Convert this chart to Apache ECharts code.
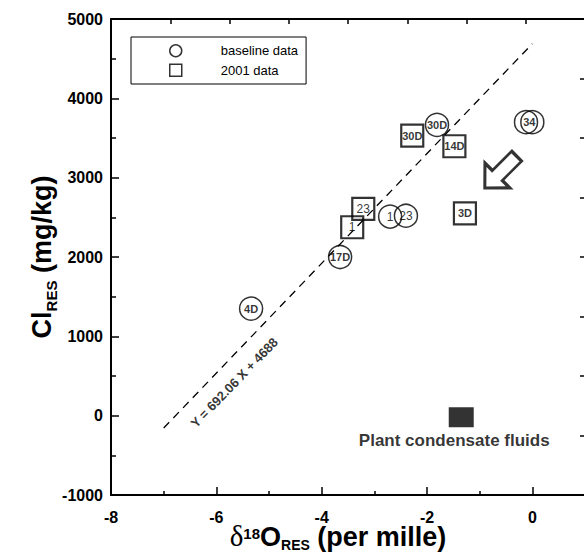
<!DOCTYPE html>
<html>
<head>
<meta charset="utf-8">
<script src="https://cdn.jsdelivr.net/npm/echarts@6/dist/echarts.min.js"></script>
<style>
  html, body { margin: 0; padding: 0; background: #fff; }
  #chart { width: 584px; height: 555px; }
</style>
</head>
<body>
<div id="chart"></div>
<script>
// ── Data ──────────────────────────────────────────────────────────────
const baseX      = [-5.34, -3.65, -2.70, -2.40, -1.81, -0.12, 0.0];
const baseY      = [1350, 2000, 2510, 2520, 3665, 3700, 3700];
const baseLabels = ['4D', '17D', '1', '23', '30D', '', '34'];

const newX       = [-3.42, -3.21, -2.28, -1.48, -1.28];
const newY       = [2375, 2607, 3531, 3396, 2551];
const newLabels  = ['1', '23', '30D', '14D', '3D'];

const condX = [-1.35];
const condY = [-20];
const condLabel = 'Plant condensate fluids';

const fitX = [-7, 0];
const fitY = [-156, 4688];
const fitText = 'Y = 692.06 X + 4688';
const fitTextAt = [-5.66, 416];

const arrowAt = [-0.6, 3070];

const xTicks = { min: -8, max: 1, interval: 2 };
const yTicks = { min: -1000, max: 5000, interval: 1000 };

// ── Styling ───────────────────────────────────────────────────────────
const sans  = "'Liberation Sans', Arial, sans-serif";
const serif = "'Liberation Serif', 'Times New Roman', serif";
const ink   = '#000';

const labelWeight = (t) => (/D|34/.test(t) ? 'bold' : 'normal');
const labelSize   = (t) => (/D|34/.test(t) ? 11 : 12);

const pts = (xs, ys, labels) => xs.map((x, i) => ({
  value: [x, ys[i]],
  label: {
    formatter: labels[i],
    fontWeight: labelWeight(labels[i]),
    fontSize: labelSize(labels[i]),
    color: ink,
    offset: labels[i] === '34' ? [-3, 0] : [0, 0],
  },
}));

const arrowPath = 'path://M17.5,0L35,17.7L24.5,17.7L24.5,45L10.5,45L10.5,17.7L0,17.7Z';

const chart = echarts.init(document.getElementById('chart'), null, { renderer: 'svg' });

chart.setOption({
  animation: false,
  backgroundColor: '#fff',
  textStyle: { fontFamily: sans, color: ink },
  grid: { left: 111, top: 19, width: 474, height: 476, outerBoundsMode: 'none', containLabel: false },
  legend: {
    data: ['baseline data', '2001 data'],
    orient: 'vertical',
    left: 131, top: 37,
    padding: [7, 8, 7, 38],
    itemGap: 6,
    itemWidth: 12, itemHeight: 12,
    borderColor: ink, borderWidth: 1,
    textStyle: { fontFamily: sans, fontSize: 13, color: ink, padding: [0, 0, 0, 34] },
    itemStyle: { color: 'rgba(255,255,255,0)', borderColor: ink, borderWidth: 1.5 },
  },
  xAxis: [
    {
      type: 'value', position: 'bottom',
      min: xTicks.min, max: xTicks.max, interval: xTicks.interval,
      axisLine: { onZero: false, lineStyle: { color: ink, width: 2 } },
      axisTick: { inside: true, length: 8, lineStyle: { color: ink, width: 1.5 } },
      minorTick: { show: true, splitNumber: 2, length: 4, lineStyle: { color: ink, width: 1.5 } },
      axisLabel: { showMaxLabel: false, margin: 15, lineHeight: 14, fontSize: 16, fontWeight: 'bold', color: ink, fontFamily: sans },
      splitLine: { show: false },
      name: '{d|\u03b4}{sup|18}{b|O}{sub|RES}{b| (per mille)}',
      nameLocation: 'middle', nameGap: 29, nameMoveOverlap: false,
      nameTextStyle: {
        padding: [0, 20, 0, 0],
        rich: {
          d:   { fontFamily: serif, fontSize: 29, color: ink, lineHeight: 26, verticalAlign: 'bottom' },
          sup: { fontFamily: sans, fontSize: 15, fontWeight: 'bold', color: ink, lineHeight: 26, verticalAlign: 'top', padding: [2, 0, 0, 0] },
          b:   { fontFamily: sans, fontSize: 27, fontWeight: 'bold', color: ink, lineHeight: 26, verticalAlign: 'bottom' },
          sub: { fontFamily: sans, fontSize: 14, fontWeight: 'bold', color: ink, lineHeight: 26, verticalAlign: 'bottom', padding: [0, 0, -2, 0] },
        },
      },
    },
    {
      type: 'value', position: 'top', min: 0, max: 8, interval: 1,
      axisLine: { onZero: false, lineStyle: { color: ink, width: 2 } },
      axisTick: { inside: true, length: 5, lineStyle: { color: ink, width: 1.5 } },
      axisLabel: { show: false },
      splitLine: { show: false },
    },
  ],
  yAxis: [
    {
      type: 'value', position: 'left',
      min: yTicks.min, max: yTicks.max, interval: yTicks.interval,
      axisLine: { show: true, onZero: false, lineStyle: { color: ink, width: 2 } },
      axisTick: { show: true, inside: true, length: 8, lineStyle: { color: ink, width: 1.5 } },
      minorTick: { show: true, splitNumber: 2, length: 5, lineStyle: { color: ink, width: 1.5 } },
      axisLabel: { margin: 8, fontSize: 16, fontWeight: 'bold', color: ink, fontFamily: sans,
                   formatter: (v) => String(v) },
      splitLine: { show: false },
      name: '{b|Cl}{sub|RES}{b| (mg/kg)}',
      nameLocation: 'middle', nameGap: 56, nameMoveOverlap: false,
      nameTextStyle: {
        rich: {
          b:   { fontFamily: sans, fontSize: 27, fontWeight: 'bold', color: ink, lineHeight: 32, verticalAlign: 'bottom' },
          sub: { fontFamily: sans, fontSize: 15, fontWeight: 'bold', color: ink, lineHeight: 32, verticalAlign: 'bottom', padding: [0, 0, -4, 0] },
        },
      },
    },
    {
      type: 'value', position: 'right', min: 0, max: 8, interval: 1,
      axisLine: { show: true, onZero: false, lineStyle: { color: ink, width: 2 } },
      axisTick: { show: true, inside: true, length: 5, lineStyle: { color: ink, width: 1.5 } },
      axisLabel: { show: false },
      splitLine: { show: false },
    },
  ],
  series: [
    {
      name: 'fit', type: 'line',
      data: fitX.map((x, i) => [x, fitY[i]]),
      symbol: 'none', silent: true,
      lineStyle: { color: ink, width: 1.3, type: [8, 6] },
    },
    {
      name: 'fit label', type: 'scatter', silent: true,
      data: [{ value: fitTextAt }],
      symbolSize: 0,
      label: {
        show: true, position: 'inside', formatter: fitText, rotate: 46,
        fontSize: 13, fontWeight: 'bold', color: ink, fontFamily: sans,
      },
    },
    {
      name: 'baseline data', type: 'scatter',
      data: pts(baseX, baseY, baseLabels),
      symbol: 'circle', symbolSize: 23,
      itemStyle: { color: 'rgba(255,255,255,0)', borderColor: ink, borderWidth: 1.5 },
      label: { show: true, position: 'inside', color: ink, fontFamily: sans },
    },
    {
      name: '2001 data', type: 'scatter',
      data: pts(newX, newY, newLabels),
      symbol: 'rect', symbolSize: 22,
      itemStyle: { color: 'rgba(255,255,255,0)', borderColor: ink, borderWidth: 2.2 },
      label: { show: true, position: 'inside', color: ink, fontFamily: sans },
    },
    {
      name: 'condensate', type: 'scatter',
      data: condX.map((x, i) => [x, condY[i]]),
      symbol: 'rect', symbolSize: [25, 20],
      itemStyle: { color: ink },
      label: {
        show: true, position: 'bottom', distance: 5, offset: [-7, 0], formatter: condLabel,
        fontSize: 17, fontWeight: 'bold', color: ink, fontFamily: sans,
      },
    },
    {
      name: 'arrow', type: 'scatter', silent: true,
      data: [arrowAt],
      symbol: arrowPath, symbolSize: [35, 45], symbolRotate: 135,
      itemStyle: { color: '#fff', borderColor: ink, borderWidth: 3 },
    },
  ],
});
</script>
</body>
</html>
